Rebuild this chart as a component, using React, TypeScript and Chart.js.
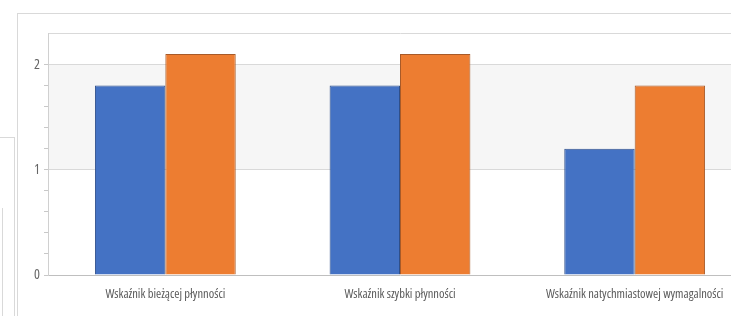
import React, { useEffect, useRef } from "react";
import { Chart, registerables } from "chart.js";

Chart.register(...registerables);

const categories = [
  "Wskaźnik bieżącej płynności",
  "Wskaźnik szybki płynności",
  "Wskaźnik natychmiastowej wymagalności",
];
const seriesNames = ["Seria 1", "Seria 2"];
const series1 = [1.8, 1.8, 1.2];
const series2 = [2.1, 2.1, 1.8];
const yMin = 0;
const yMax = 2.3;
const yMinorStep = 0.2;

const FONT = "'Open Sans', 'Roboto', sans-serif";

const isInt = (v: number) => Math.abs(v - Math.round(v)) < 1e-6;

const bandPlugin = {
  id: "band",
  beforeDraw(chart: any) {
    const { ctx, chartArea: a, scales } = chart;
    const y = scales.y;
    const t = y.getPixelForValue(2);
    const b = y.getPixelForValue(1);
    ctx.save();
    ctx.fillStyle = "#f6f6f6";
    ctx.fillRect(a.left, t, a.right - a.left, b - t);
    ctx.restore();
  },
};

export default function App() {
  const ref = useRef<HTMLCanvasElement | null>(null);

  useEffect(() => {
    document.body.style.margin = "0";
    document.body.style.overflow = "hidden";
    if (!ref.current) return;
    const chart = new Chart(ref.current, {
      type: "bar",
      data: {
        labels: categories,
        datasets: [
          {
            label: seriesNames[0],
            data: series1,
            backgroundColor: "#4472c4",
            borderColor: "#2f4f8a",
            borderWidth: 1,
            categoryPercentage: 0.6,
            barPercentage: 1.0,
          },
          {
            label: seriesNames[1],
            data: series2,
            backgroundColor: "#ed7d31",
            borderColor: "#a85a28",
            borderWidth: 1,
            categoryPercentage: 0.6,
            barPercentage: 1.0,
          },
        ],
      },
      options: {
        responsive: false,
        animation: false,
        layout: { padding: { top: 19, right: 8, left: 0, bottom: 0 } },
        plugins: {
          legend: { display: false },
          tooltip: { enabled: false },
        },
        scales: {
          x: {
            grid: { display: false, drawTicks: false },
            border: { display: true, color: "#bfbfbf" },
            ticks: {
              color: "#5a5a5a",
              font: { family: FONT, size: 12.5, weight: "normal condensed" as any },
              padding: 12,
              maxRotation: 0,
              autoSkip: false,
            },
            afterFit(scale: any) {
              scale.height = 41;
            },
          },
          y: {
            min: yMin,
            max: yMax,
            grid: {
              color: (ctx: any) => {
                const v = ctx.tick ? ctx.tick.value : 0;
                if (v > 2.25) return "#d9d9d9";
                if (isInt(v) && v > 0) return "#d9d9d9";
                return "rgba(0,0,0,0)";
              },
              tickColor: (ctx: any) => {
                const v = ctx.tick ? ctx.tick.value : 0;
                if (v > 2.25) return "rgba(0,0,0,0)";
                return "#c8c8c8";
              },
              tickLength: 4,
              drawTicks: true,
            },
            border: { display: true, color: "#d0d0d0" },
            ticks: {
              stepSize: yMinorStep,
              color: "#666666",
              font: { family: FONT, size: 14, weight: "normal condensed" as any },
              padding: 4,
              callback: (v: any) => (isInt(Number(v)) ? String(Math.round(Number(v))) : ""),
            },
            afterFit(scale: any) {
              scale.width = 30;
            },
          },
        },
      },
      plugins: [bandPlugin],
    });
    return () => chart.destroy();
  }, []);

  return (
    <div style={{ position: "relative", width: 731, height: 316, overflow: "hidden", background: "#fff" }}>
      <div
        style={{
          position: "absolute",
          left: 0,
          top: 137,
          width: 15,
          height: 300,
          borderTop: "1px solid #d9d9d9",
          borderRight: "1px solid #d9d9d9",
          boxSizing: "border-box",
        }}
      />
      <div
        style={{
          position: "absolute",
          left: 2,
          top: 208,
          width: 1,
          height: 200,
          background: "#d9d9d9",
        }}
      />
      <div
        style={{
          position: "absolute",
          left: 17,
          top: 13,
          width: 800,
          height: 400,
          borderLeft: "1px solid #d9d9d9",
          borderTop: "1px solid #d9d9d9",
        }}
      />
      <canvas
        ref={ref}
        width={742}
        height={302}
        style={{ position: "absolute", left: 18, top: 14, width: 742, height: 302 }}
      />
    </div>
  );
}
